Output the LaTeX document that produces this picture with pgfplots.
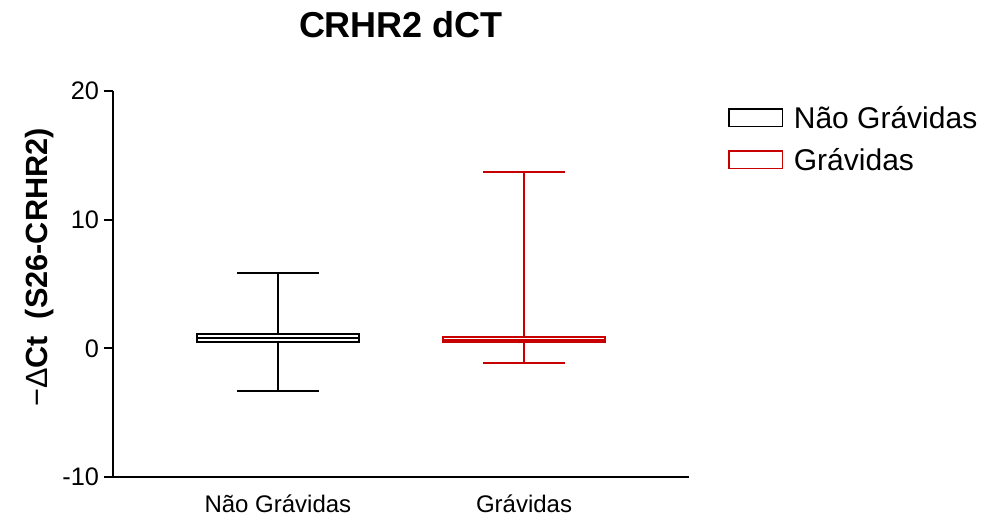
\documentclass[border=0pt]{standalone}
\usepackage{pgfplots}
\pgfplotsset{compat=1.18}
\usepgfplotslibrary{statistics}
\usepackage{fontspec}
\setmainfont{Liberation Sans}
\definecolor{myred}{RGB}{200,0,0}
\begin{document}
\begin{tikzpicture}
\begin{axis}[
  scale only axis,
  width=432pt, height=289.5pt,
  xmin=0.33, xmax=2.67,
  ymin=-10, ymax=20,
  axis x line*=bottom, axis y line*=left,
  axis line style={line width=1.3pt, -},
  ytick={-10,0,10,20},
  xtick={1,2},
  xticklabels={Não Grávidas, Grávidas},
  tick align=outside,
  major tick length=7pt,
  x tick style={draw=none},
  y tick style={line width=1.3pt, black},
  /pgf/number format/assume math mode=true,
  tick label style={font=\fontsize{19}{22}\selectfont},
  xticklabel style={anchor=north, yshift=-3pt, font=\fontsize{18}{21}\selectfont},
  title={\bfseries CRHR2 dCT},
  title style={font=\fontsize{27}{31}\selectfont, at={(0.5,1)}, anchor=base, yshift=34pt},
  ylabel={−Δ\textbf{Ct}\hspace{0.55em}\textbf{(S26-CRHR2)}},
  ylabel style={font=\fontsize{23}{26}\selectfont, at={(axis description cs:-0.127,0.543)}, anchor=center},
  legend style={draw=none, fill=none, inner sep=0pt, at={(axis description cs:1.068,0.96)}, anchor=north west,
    font=\fontsize{22.5}{27}\selectfont, row sep=15pt, cells={anchor=west}, nodes={inner sep=0pt, text depth=0pt}},
  legend image code/.code={\draw[#1, line width=1.1pt, fill=white] (0pt,-6.5pt) rectangle (40pt,6.5pt);},
  legend cell align=left,
  boxplot/draw direction=y,
  clip=false,
]
\addplot+[boxplot prepared={median=0.78, upper quartile=1.14, lower quartile=0.47,
  upper whisker=5.88, lower whisker=-3.29, draw position=1, box extend=0.66, whisker extend=0.333},
  black, solid, line width=1.4pt, mark=none, fill=white] coordinates {};
\addlegendentry{\hspace{8pt}Não Grávidas}
\addplot+[boxplot prepared={median=0.68, upper quartile=0.89, lower quartile=0.47,
  upper whisker=13.73, lower whisker=-1.11, draw position=2, box extend=0.66, whisker extend=0.333},
  myred, solid, line width=1.4pt, mark=none, fill=white] coordinates {};
\addlegendentry{\hspace{8pt}Grávidas}
\end{axis}
\path[use as bounding box] (-84.75pt,-31.5pt) rectangle (654pt,357.75pt);
\end{tikzpicture}
\end{document}
